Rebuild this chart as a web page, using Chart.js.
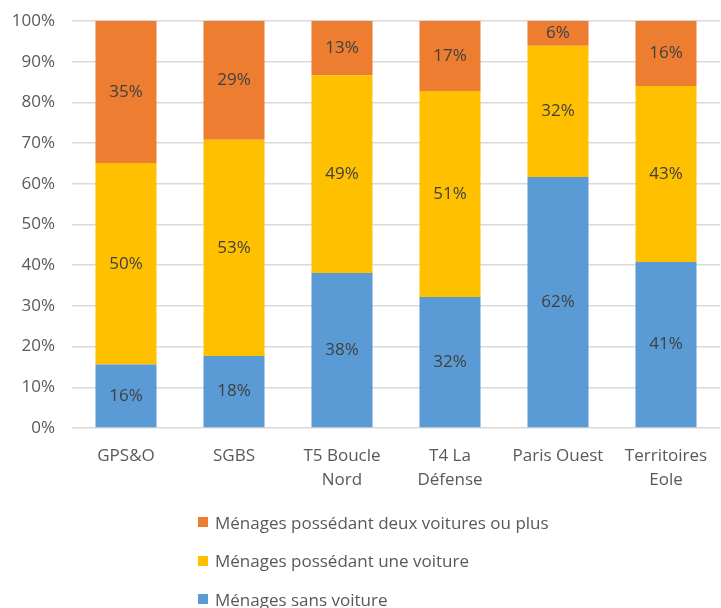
<!DOCTYPE html>
<html lang="fr">
<head>
    <meta charset="UTF-8">
    <title>Motorisation des ménages</title>
    <script src="https://cdn.jsdelivr.net/npm/chart.js"></script>
    <style>
        body {
            margin: 0;
            background: #fff;
            font-family: "Open Sans", sans-serif;
        }
        .wrap {
            position: relative;
            width: 721px;
            height: 608px;
        }
        .legend {
            position: absolute;
            left: 198px;
            top: 503px;
            color: #595959;
            font-size: 17px;
        }
        .legend-item {
            height: 38.5px;
            display: flex;
            align-items: center;
        }
        .legend-box {
            width: 10px;
            height: 10px;
            margin-right: 7px;
        }
    </style>
</head>
<body>
    <div class="wrap">
        <canvas id="myChart" width="721" height="608"></canvas>
        <div class="legend" id="legend"></div>
    </div>

    <script>
        // Catégories (territoires)
        const categories = [['GPS&O'], ['SGBS'], ['T5 Boucle', 'Nord'], ['T4 La', 'Défense'], ['Paris Ouest'], ['Territoires', 'Eole']];

        // Parts en %
        const sansVoiture = [15.6, 17.7, 38.1, 32.2, 61.7, 40.8];
        const uneVoiture = [49.5, 53.1, 48.6, 50.6, 32.2, 43.2];
        const deuxVoitures = [34.9, 29.2, 13.3, 17.2, 6.1, 16.0];

        const seriesNames = ['Ménages sans voiture', 'Ménages possédant une voiture', 'Ménages possédant deux voitures ou plus'];
        const yTicks = [0, 10, 20, 30, 40, 50, 60, 70, 80, 90, 100];

        const colors = ['#5B9BD5', '#FFC000', '#ED7D31'];

        // Étiquettes de valeurs au centre des barres
        const valueLabels = {
            id: 'valueLabels',
            afterDatasetsDraw(chart) {
                const ctx = chart.ctx;
                ctx.save();
                ctx.font = '17px "Open Sans"';
                ctx.fillStyle = '#404040';
                ctx.textAlign = 'center';
                ctx.textBaseline = 'middle';
                chart.data.datasets.forEach((ds, i) => {
                    chart.getDatasetMeta(i).data.forEach((bar, j) => {
                        const mid = (bar.y + bar.base) / 2;
                        ctx.fillText(Math.round(ds.data[j]) + '%', bar.x, mid);
                    });
                });
                ctx.restore();
            }
        };

        const ctx = document.getElementById('myChart').getContext('2d');
        const chart = new Chart(ctx, {
            type: 'bar',
            data: {
                labels: categories,
                datasets: [
                    { label: seriesNames[0], data: sansVoiture, backgroundColor: colors[0] },
                    { label: seriesNames[1], data: uneVoiture, backgroundColor: colors[1] },
                    { label: seriesNames[2], data: deuxVoitures, backgroundColor: colors[2] }
                ]
            },
            options: {
                responsive: false,
                animation: false,
                layout: { padding: { top: 21, right: 1, left: 0, bottom: 0 } },
                datasets: {
                    bar: { categoryPercentage: 1, barPercentage: 0.565 }
                },
                plugins: {
                    legend: { display: false },
                    tooltip: { enabled: false }
                },
                scales: {
                    x: {
                        stacked: true,
                        grid: { display: false },
                        border: { display: false },
                        ticks: {
                            color: '#595959',
                            font: { family: 'Open Sans', size: 17, lineHeight: 1.4 },
                            padding: 8,
                            maxRotation: 0
                        },
                        afterFit: (scale) => { scale.height = 180; }
                    },
                    y: {
                        stacked: true,
                        min: 0,
                        max: 100,
                        afterBuildTicks: (scale) => {
                            scale.ticks = yTicks.map(v => ({ value: v }));
                        },
                        grid: { color: '#D9D9D9', drawTicks: false, lineWidth: 1.5 },
                        border: { display: false },
                        ticks: {
                            color: '#595959',
                            font: { family: 'Open Sans', size: 17 },
                            padding: 17,
                            callback: v => v + '%'
                        },
                        afterFit: (scale) => {
                            scale.width = 72;
                            scale.paddingTop = 0;
                            scale.paddingBottom = 0;
                        }
                    }
                }
            },
            plugins: [valueLabels]
        });

        // Légende verticale (ordre inverse, comme l'original)
        const legend = document.getElementById('legend');
        [2, 1, 0].forEach(i => {
            const item = document.createElement('div');
            item.className = 'legend-item';
            item.innerHTML = '<span class="legend-box" style="background:' + colors[i] + '"></span>' + seriesNames[i];
            legend.appendChild(item);
        });
    </script>
</body>
</html>
